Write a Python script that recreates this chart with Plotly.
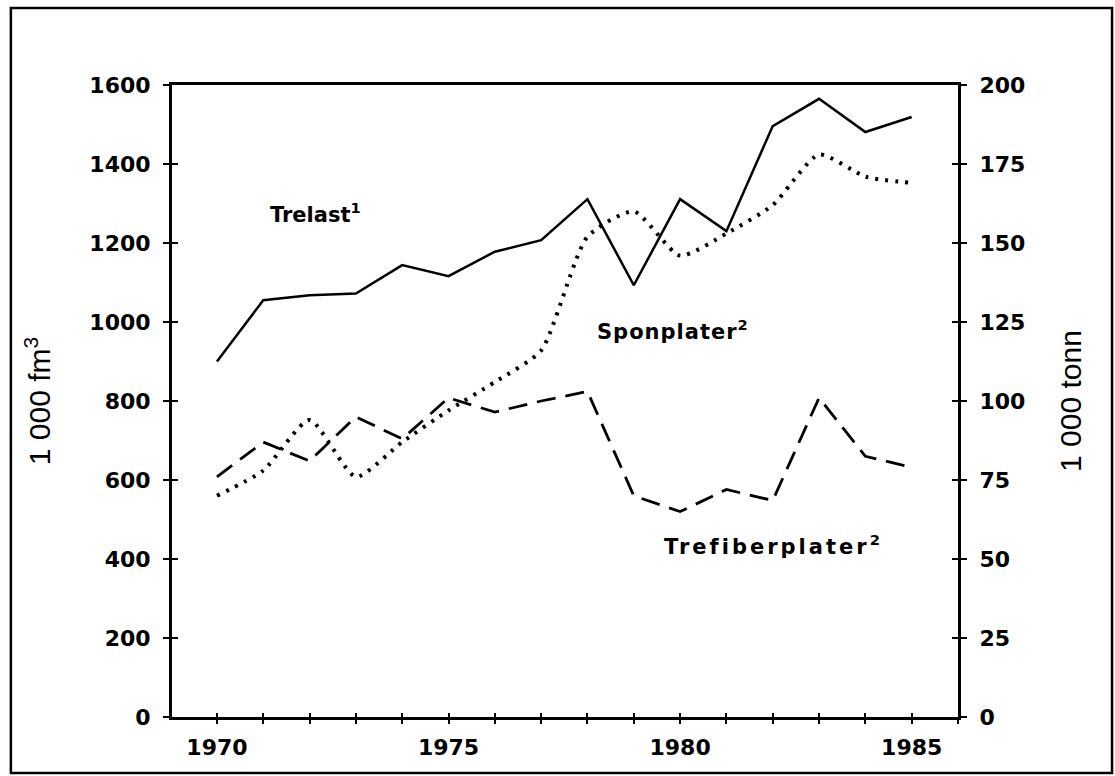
import plotly.graph_objects as go

years = list(range(1970, 1986))
trelast = [900, 1055, 1068, 1072, 1144, 1116, 1178, 1207, 1311, 1093, 1311, 1230, 1496, 1565, 1481, 1519]
sponplater = [70, 78, 94, 76, 87, 97, 106, 116, 152, 160, 146, 153, 162, 178, 171, 169]
trefiberplater = [76, 87, 81, 95, 88, 101, 96.5, 100, 103, 70, 65, 72, 68.5, 101, 82.5, 79]

left_ticks = [0, 200, 400, 600, 800, 1000, 1200, 1400, 1600]
right_ticks = [0, 25, 50, 75, 100, 125, 150, 175, 200]
x_ticks = [1970, 1975, 1980, 1985]

FONT = "DejaVu Sans"
NARROW = "Liberation Sans Narrow, Arial Narrow, sans-serif"

fig = go.Figure()
fig.add_trace(go.Scatter(x=years, y=trelast, mode="lines", yaxis="y",
                         line=dict(color="black", width=2.5)))
fig.add_trace(go.Scatter(x=years, y=sponplater, mode="lines", yaxis="y2",
                         line=dict(color="black", width=4, dash="3px,7px", shape="spline", smoothing=0.6)))
fig.add_trace(go.Scatter(x=years, y=trefiberplater, mode="lines", yaxis="y2",
                         line=dict(color="black", width=2.8, dash="19px,10px")))
# invisible helpers for inner-tick overlay axes
fig.add_trace(go.Scatter(x=[years[0]], y=[0], xaxis="x2", yaxis="y3", mode="markers",
                         marker=dict(opacity=0), hoverinfo="skip"))
fig.add_trace(go.Scatter(x=[years[0]], y=[0], xaxis="x2", yaxis="y4", mode="markers",
                         marker=dict(opacity=0), hoverinfo="skip"))

xr = [1969.03, 1986.0]
tickfont = dict(family=FONT, size=22, color="black", weight="bold")
minor_out = dict(dtick=1, tick0=1970, ticks="outside", ticklen=4, tickwidth=2, tickcolor="black", showgrid=False)
minor_in = dict(dtick=1, tick0=1970, ticks="inside", ticklen=4, tickwidth=2, tickcolor="black", showgrid=False)

fig.update_layout(
    width=1115, height=776,
    margin=dict(l=172, r=157, t=85, b=59),
    paper_bgcolor="white", plot_bgcolor="white",
    showlegend=False,
    xaxis=dict(range=xr, tickvals=x_ticks, ticks="outside", ticklen=4, tickwidth=2,
               tickcolor="black", showline=True, linecolor="black", linewidth=3, mirror=True,
               showgrid=False, zeroline=False, tickfont=tickfont, ticklabelstandoff=5, minor=minor_out),
    xaxis2=dict(range=xr, overlaying="x", tickvals=x_ticks, ticks="inside", ticklen=4, tickwidth=2,
                tickcolor="black", showticklabels=False, showgrid=False, zeroline=False, showline=False,
                minor=minor_in),
    yaxis=dict(range=[0, 1600], tickvals=left_ticks, ticks="outside", ticklen=6, tickwidth=2,
               tickcolor="black", showline=True, linecolor="black", linewidth=3,
               showgrid=False, zeroline=False, tickfont=tickfont, ticklabelstandoff=8,
               title=dict(text="1 000 fm<sup>3</sup>", font=dict(family=NARROW, size=30, color="black"),
                          standoff=30)),
    yaxis2=dict(range=[0, 200], tickvals=right_ticks, overlaying="y", side="right", ticks="outside",
                ticklen=6, tickwidth=2, tickcolor="black", showline=True, linecolor="black", linewidth=3,
                showgrid=False, zeroline=False, tickfont=tickfont, ticklabelstandoff=8,
                title=dict(text="1 000 tonn", font=dict(family=NARROW, size=30, color="black"),
                           standoff=36)),
    yaxis3=dict(range=[0, 1600], tickvals=left_ticks, overlaying="y", side="left", ticks="inside",
                ticklen=6, tickwidth=2, tickcolor="black", showticklabels=False, showgrid=False,
                zeroline=False, showline=False),
    yaxis4=dict(range=[0, 200], tickvals=right_ticks, overlaying="y", side="right", ticks="inside",
                ticklen=6, tickwidth=2, tickcolor="black", showticklabels=False, showgrid=False,
                zeroline=False, showline=False),
)

ann_font = dict(family=FONT, size=21, color="black")
fig.add_annotation(x=1971.1, y=1276, xref="x", yref="y", text="<b>Trelast<sup>1</sup></b>",
                   showarrow=False, xanchor="left", yanchor="middle", font=ann_font)
fig.add_annotation(x=1978.16, y=980, xref="x", yref="y",
                   text="<b><span style='letter-spacing:1px'>Sponplater</span><sup>2</sup></b>",
                   showarrow=False, xanchor="left", yanchor="middle", font=ann_font)
fig.add_annotation(x=1979.6, y=435, xref="x", yref="y",
                   text="<b><span style='letter-spacing:3px'>Trefiberplater</span><sup>2</sup></b>",
                   showarrow=False, xanchor="left", yanchor="middle", font=ann_font)

# outer frame
fig.add_shape(type="rect", xref="paper", yref="paper", x0=-0.205, x1=1.196, y0=-0.0886, y1=1.122,
              line=dict(color="black", width=2.5), fillcolor="rgba(0,0,0,0)", layer="below")

fig.write_html("out.html", config={"displayModeBar": False},
               post_script="document.body.style.margin='0';document.body.style.overflow='hidden';")
